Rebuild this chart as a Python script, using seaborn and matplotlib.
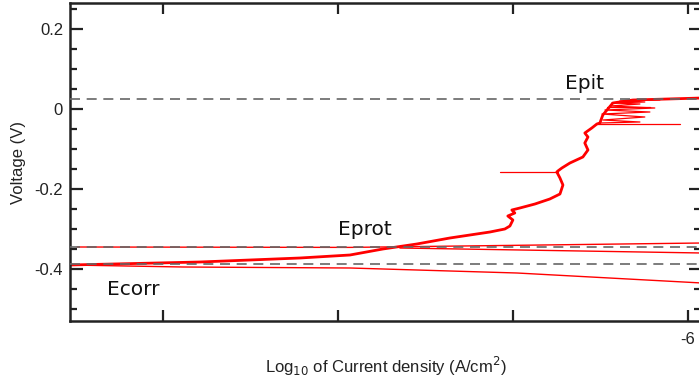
import matplotlib
matplotlib.use("Agg")
import matplotlib.pyplot as plt
import seaborn as sns
import pandas as pd
from matplotlib.ticker import MultipleLocator, FixedLocator, FixedFormatter

# forward scan (log10 current density, voltage)
fwd_logi = [-9.531, -8.789, -8.217, -7.931, -7.743, -7.549, -7.36, -7.131, -7.046, -7.017,
            -7.0, -7.029, -6.989, -7.006, -6.96, -6.874, -6.789, -6.731, -6.714, -6.731,
            -6.749, -6.743, -6.72, -6.674, -6.6, -6.571, -6.589, -6.571, -6.589,
            -6.549, -6.52, -6.503, -6.486, -6.429, -6.314, -5.92]
fwd_volt = [-0.39, -0.3825, -0.3725, -0.365, -0.35, -0.3375, -0.3225, -0.3075, -0.30, -0.2925,
            -0.2775, -0.2675, -0.26, -0.2525, -0.2475, -0.2375, -0.225, -0.2125, -0.19, -0.1725,
            -0.1575, -0.155, -0.1475, -0.135, -0.12, -0.1025, -0.085, -0.07, -0.06,
            -0.0475, -0.0375, -0.035, -0.015, 0.015, 0.0225, 0.0275]

# noisy band just below Epit
noise_logi = [-6.503, -6.274, -6.486, -6.246, -6.491, -6.217, -6.474, -6.189, -6.446,
              -6.274, -6.434, -6.246, -6.389, -6.16]
noise_volt = [-0.035, -0.0325, -0.0275, -0.02, -0.0125, -0.0075, -0.0025, 0.0025, 0.0075,
              0.0125, 0.015, 0.0175, 0.02, 0.0225]

# single-point current spikes: (start, end, voltage)
spike_from = [-6.749, -6.52, -6.46]
spike_to = [-7.074, -6.046, -6.217]
spike_volt = [-0.1575, -0.0375, 0.005]

# reverse scan branches
rev1_logi = [-9.49, -7.931, -5.92]
rev1_volt = [-0.345, -0.346, -0.335]
rev2_logi = [-7.646, -5.92]
rev2_volt = [-0.3475, -0.36]
rev3_logi = [-9.531, -8.886, -7.931, -6.977, -5.92]
rev3_volt = [-0.39, -0.395, -0.3975, -0.41, -0.435]

# characteristic potentials
e_pit = 0.025
e_prot = -0.345
e_corr = -0.3875

sns.set_theme(style="ticks")
plt.rcParams["font.family"] = ["Liberation Sans", "DejaVu Sans"]

fig = plt.figure(figsize=(6.99, 3.87), dpi=100)
ax = fig.add_axes([70 / 699, 66 / 387, 631 / 699, 318 / 387])

curves = [(fwd_logi, fwd_volt, 2.0), (noise_logi, noise_volt, 0.9),
          (rev1_logi, rev1_volt, 1.0), (rev2_logi, rev2_volt, 1.0),
          (rev3_logi, rev3_volt, 1.0)]
for a, b, v in zip(spike_from, spike_to, spike_volt):
    curves.append(([a, b], [v, v], 0.9))
for xs, ys, lw in curves:
    df = pd.DataFrame({"logi": xs, "volt": ys})
    sns.lineplot(data=df, x="logi", y="volt", sort=False, estimator=None,
                 color="#ff0000", lw=lw, ax=ax)

for e in [e_pit, e_prot, e_corr]:
    ax.axhline(e, color="#666666", lw=1.2, ls=(0, (6, 4)), zorder=5)

ax.set_xlim(-9.531, -5.925)
ax.set_ylim(-0.53, 0.265)

ax.yaxis.set_major_locator(FixedLocator([0.2, 0.0, -0.2, -0.4]))
ax.yaxis.set_major_formatter(FixedFormatter(["0.2", "0", "-0.2", "-0.4"]))
ax.yaxis.set_minor_locator(MultipleLocator(0.05))
ax.xaxis.set_major_locator(FixedLocator([-9, -8, -7, -6]))
ax.xaxis.set_major_formatter(FixedFormatter(["", "", "", "-6"]))

ax.tick_params(axis="both", which="both", direction="in", top=True, right=True,
               width=1.6, color="#222222", labelsize=12, labelcolor="#222222")
ax.tick_params(axis="y", which="major", length=9, pad=5)
ax.tick_params(axis="y", which="minor", length=5)
ax.tick_params(axis="x", which="major", length=8, pad=8)
for s in ax.spines.values():
    s.set_linewidth(1.8)
    s.set_color("#222222")

ax.set_xlabel("Log$_{10}$ of Current density (A/cm$^2$)", fontsize=12, color="#222222", labelpad=5.5)
ax.set_ylabel("Voltage (V)", fontsize=12, color="#222222", labelpad=6)

ax.text(-6.703, 0.05, "Epit", fontsize=14.5, family="DejaVu Sans", color="#111111")
ax.text(-8.0, -0.315, "Eprot", fontsize=14.5, family="DejaVu Sans", color="#111111")
ax.text(-9.32, -0.465, "Ecorr", fontsize=14.5, family="DejaVu Sans", color="#111111")

fig.savefig("out.png", dpi=100)
